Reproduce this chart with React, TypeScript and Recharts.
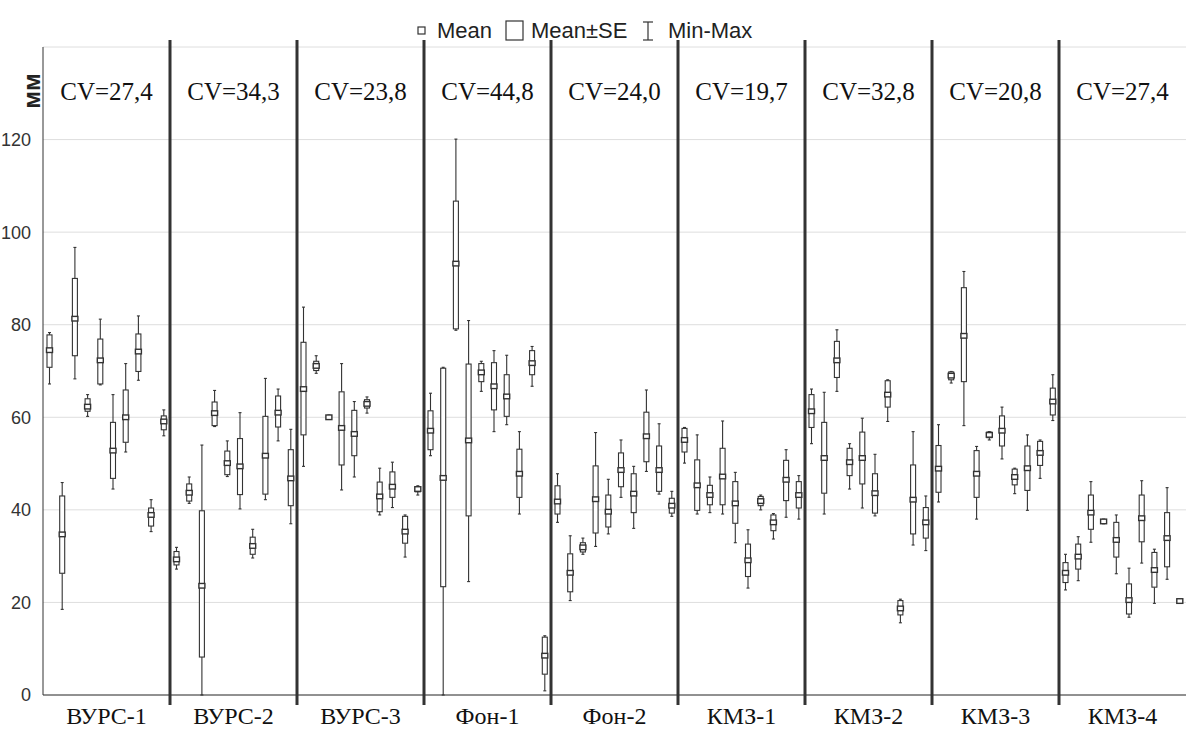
import { Bar, CartesianGrid, ComposedChart, Legend, ReferenceLine, XAxis, YAxis } from 'recharts';

const groups = ['ВУРС-1', 'ВУРС-2', 'ВУРС-3', 'Фон-1', 'Фон-2', 'КМЗ-1', 'КМЗ-2', 'КМЗ-3', 'КМЗ-4'];
const cvLabels = ['CV=27,4', 'CV=34,3', 'CV=23,8', 'CV=44,8', 'CV=24,0', 'CV=19,7', 'CV=32,8', 'CV=20,8', 'CV=27,4'];
const yTicks = [0, 20, 40, 60, 80, 100, 120];

// one row per group, ten samples each
const mins = [
  [67.2, 18.5, 68.3, 60.2, 67.0, 44.5, 52.5, 68.0, 35.3, 56.0],
  [27.2, 41.4, 0, 58.0, 47.2, 40.2, 29.6, 42.2, 54.9, 37.0],
  [49.4, 69.5, 59.6, 44.3, 47.1, 60.9, 38.9, 40.5, 29.8, 43.2],
  [51.7, 0, 78.8, 24.5, 65.6, 56.9, 58.4, 39.1, 66.7, 0.9],
  [37.3, 20.4, 30.4, 32.1, 34.8, 42.7, 36.0, 48.3, 43.4, 38.6],
  [50.1, 39.1, 39.4, 39.1, 32.9, 23.1, 40.0, 33.7, 38.4, 38.0],
  [54.3, 39.1, 65.6, 44.5, 40.4, 38.7, 59.1, 15.6, 32.4, 31.2],
  [41.7, 67.4, 58.2, 38.0, 55.1, 51.0, 43.5, 39.9, 46.8, 59.3],
  [22.7, 24.7, 33.0, 37.0, 26.2, 16.8, 28.5, 19.8, 25.0, 20.0],
];

const seLow = [
  [70.8, 26.3, 73.3, 61.3, 67.2, 46.8, 54.6, 69.9, 36.5, 57.3],
  [28.1, 41.9, 8.2, 58.2, 47.6, 43.3, 30.4, 43.4, 57.9, 40.9],
  [56.2, 70.1, 59.8, 49.7, 51.7, 62.0, 39.6, 42.7, 32.8, 43.9],
  [53.0, 23.4, 79.1, 38.7, 67.7, 61.6, 60.2, 42.7, 69.2, 4.5],
  [39.1, 22.3, 30.9, 35.0, 36.3, 45.0, 39.4, 50.4, 44.0, 39.3],
  [52.5, 39.9, 41.1, 41.1, 37.1, 25.6, 40.9, 35.5, 42.0, 40.4],
  [57.8, 43.6, 68.6, 47.4, 45.6, 39.3, 62.2, 17.3, 34.8, 33.9],
  [43.8, 68.1, 67.7, 42.7, 55.6, 53.8, 45.4, 44.2, 49.6, 60.5],
  [24.3, 27.2, 35.8, 37.2, 29.8, 17.5, 33.1, 23.3, 27.7, 20.1],
];

const means = [
  [74.5, 34.7, 81.3, 62.3, 72.3, 52.8, 60.0, 74.2, 38.9, 59.1],
  [29.3, 43.7, 23.6, 60.9, 50.1, 49.4, 32.2, 51.7, 61.0, 46.8],
  [66.1, 71.1, 60.0, 57.7, 56.4, 62.9, 42.9, 45.0, 35.3, 44.5],
  [57.1, 46.9, 93.2, 55.0, 69.7, 66.7, 64.5, 47.8, 71.7, 8.5],
  [41.8, 26.4, 31.9, 42.3, 39.6, 48.6, 43.5, 55.9, 48.6, 40.9],
  [55.1, 45.3, 43.2, 47.2, 41.4, 29.1, 41.9, 37.3, 46.5, 43.2],
  [61.3, 51.2, 72.3, 50.3, 51.2, 43.6, 64.9, 18.7, 42.2, 37.3],
  [48.9, 69.0, 77.6, 47.8, 56.2, 57.1, 47.1, 49.0, 52.3, 63.4],
  [26.4, 29.9, 39.4, 37.5, 33.5, 20.5, 38.2, 27.0, 33.9, 20.3],
];

const seHigh = [
  [77.8, 43.0, 90.0, 64.0, 76.9, 58.9, 65.9, 78.0, 40.4, 60.3],
  [31.0, 45.6, 39.8, 63.3, 52.7, 55.4, 34.1, 60.2, 64.6, 53.0],
  [76.2, 72.1, 60.3, 65.5, 61.5, 63.8, 46.0, 48.2, 38.6, 44.9],
  [61.4, 70.6, 106.7, 71.5, 71.6, 71.8, 69.2, 53.1, 74.4, 12.5],
  [45.2, 30.5, 32.9, 49.5, 43.2, 52.3, 47.8, 61.1, 53.8, 42.5],
  [57.6, 50.8, 45.3, 53.3, 46.1, 32.6, 42.9, 38.9, 50.7, 46.1],
  [64.9, 58.9, 76.4, 53.3, 56.8, 47.8, 67.9, 20.4, 49.7, 40.5],
  [53.9, 69.8, 88.0, 52.8, 56.8, 60.3, 48.8, 53.8, 54.8, 66.3],
  [28.6, 32.6, 43.2, 37.8, 37.3, 24.0, 43.2, 30.8, 39.4, 20.5],
];

const maxs = [
  [78.3, 45.9, 96.7, 64.9, 81.2, 64.9, 71.6, 81.9, 42.2, 61.6],
  [31.9, 47.1, 54.0, 65.8, 54.9, 61.0, 35.8, 68.4, 66.1, 57.4],
  [83.8, 73.3, 60.5, 71.6, 63.4, 64.4, 49.0, 50.3, 38.9, 45.2],
  [65.2, 70.8, 120.1, 80.9, 72.1, 74.4, 73.4, 56.9, 75.3, 12.8],
  [47.8, 34.4, 33.9, 56.7, 46.6, 55.1, 49.4, 65.9, 58.6, 44.0],
  [57.8, 56.2, 47.1, 59.2, 48.1, 35.7, 43.2, 39.2, 53.0, 47.4],
  [66.1, 65.4, 78.9, 54.3, 59.8, 52.0, 68.1, 20.7, 56.9, 43.0],
  [58.4, 69.9, 91.5, 53.7, 56.9, 62.2, 49.0, 56.2, 55.1, 69.2],
  [30.4, 34.2, 46.1, 38.0, 38.9, 27.4, 46.3, 31.5, 44.8, 20.6],
];

const perGroup = mins[0].length;
const data = groups.flatMap((_, g) =>
  mins[g].map((min, i) => ({
    pos: g * perGroup + i + 0.5,
    range: [min, maxs[g][i]],
    min,
    lo: seLow[g][i],
    mean: means[g][i],
    hi: seHigh[g][i],
    max: maxs[g][i],
  })),
);

const groupCenters = groups.map((_, g) => g * perGroup + perGroup / 2);
const dividers = groups.slice(1).map((_, g) => (g + 1) * perGroup);
const minorTicks = Array.from({ length: Math.ceil((groups.length * perGroup) / 4) }, (_, k) => k * 4 + 0.5);
const xDomain = [0, groups.length * perGroup];

const ink = '#333';

function BoxShape(props: any) {
  const { x, y, width, height, payload } = props;
  const top = Math.min(y, y + height);
  const h = Math.abs(height);
  const span = payload.max - payload.min || 1;
  const py = (v: number) => top + ((payload.max - v) / span) * h;
  const cx = x + width / 2;
  const yHi = py(payload.hi);
  const yLo = py(payload.lo);
  const yMean = py(payload.mean);
  return (
    <g stroke={ink} strokeWidth={1.1} fill="none">
      <line x1={cx} x2={cx} y1={top} y2={yHi} />
      <line x1={cx} x2={cx} y1={yLo} y2={top + h} />
      <line x1={cx - 1.5} x2={cx + 1.5} y1={top} y2={top} />
      <line x1={cx - 1.5} x2={cx + 1.5} y1={top + h} y2={top + h} />
      <rect x={x} y={yHi} width={width} height={Math.max(yLo - yHi, 0.5)} fill="#fff" />
      <rect x={cx - 3} y={yMean - 2.3} width={6} height={4.6} fill="#fff" strokeWidth={1.4} />
    </g>
  );
}

function LegendBox() {
  const font = { fontFamily: '"Liberation Sans", Arial, sans-serif', fontSize: 22, fill: '#222' };
  return (
    <svg width={1187} height={40} style={{ display: 'block' }}>
      <rect x={418} y={20} width={7} height={7} fill="none" stroke={ink} strokeWidth={1.2} />
      <text x={437} y={31} {...font}>Mean</text>
      <rect x={506} y={14} width={17} height={19} fill="none" stroke={ink} strokeWidth={1.2} />
      <text x={531} y={31} {...font}>Mean±SE</text>
      <g stroke={ink} strokeWidth={1.2}>
        <line x1={648} x2={648} y1={15} y2={33} />
        <line x1={643} x2={653} y1={15} y2={15} />
        <line x1={643} x2={653} y1={33} y2={33} />
      </g>
      <text x={668} y={31} {...font}>Min-Max</text>
    </svg>
  );
}

function Divider(props: any) {
  const y1 = Math.min(props.y1, props.y2);
  const y2 = Math.max(props.y1, props.y2);
  return <line x1={props.x1} x2={props.x2} y1={y1 - 7} y2={y2 + 10} stroke={ink} strokeWidth={3} />;
}

export default function App() {
  return (
    <div style={{ position: 'absolute', left: 0, top: 0, width: 1187, height: 729, background: '#fff' }}>
      <ComposedChart width={1187} height={729} data={data} margin={{ top: 7, right: 1, bottom: 0, left: 0 }}>
        <Legend verticalAlign="top" align="left" content={() => <LegendBox />} wrapperStyle={{ margin: 0, padding: 0 }} />
        <CartesianGrid vertical={false} stroke="#dedede" />
        <XAxis
          dataKey="pos"
          type="number"
          domain={xDomain}
          ticks={groupCenters}
          tickFormatter={(v) => groups[Math.floor(v / perGroup)]}
          tickLine={false}
          tickSize={0}
          tickMargin={12}
          height={34}
          stroke={ink}
          tick={{ fill: '#111', fontSize: 24, fontFamily: '"Liberation Serif", "Times New Roman", serif' }}
          interval={0}
        />
        <XAxis
          xAxisId="bottomMinor"
          type="number"
          domain={xDomain}
          ticks={minorTicks}
          mirror
          tick={false}
          tickSize={3}
          stroke={ink}
          height={0}
        />
        <XAxis
          xAxisId="top"
          orientation="top"
          type="number"
          domain={xDomain}
          ticks={minorTicks}
          mirror
          tick={false}
          tickSize={3}
          stroke={ink}
          height={0}
        />
        <YAxis
          type="number"
          domain={[0, 140]}
          ticks={yTicks}
          width={43}
          tickLine={false}
          tickMargin={6}
          stroke={ink}
          tick={{ fill: '#333', fontSize: 18, fontFamily: '"Liberation Sans", Arial, sans-serif' }}
          label={{
            content: ({ viewBox }: any) => (
              <text
                x={viewBox.x + 31}
                y={viewBox.y + 44}
                transform={`rotate(-90 ${viewBox.x + 31} ${viewBox.y + 44})`}
                textAnchor="middle"
                dominantBaseline="central"
                fontFamily='"Liberation Sans", Arial, sans-serif'
                fontSize={24}
                fontWeight="bold"
                fill="#222"
              >
                мм
              </text>
            ),
          }}
        />
        {groupCenters.map((c, g) => (
          <ReferenceLine
            key={`cv-${g}`}
            x={c}
            stroke="none"
            label={{
              value: cvLabels[g],
              position: 'insideTop',
              offset: 35,
              fill: '#111',
              fontSize: 25,
              fontFamily: '"Liberation Serif", "Times New Roman", serif',
            }}
          />
        ))}
        <Bar dataKey="range" barSize={5} shape={<BoxShape />} isAnimationActive={false} />
        {dividers.map((d) => (
          <ReferenceLine key={`div-${d}`} x={d} shape={(p: any) => <Divider {...p} />} />
        ))}
      </ComposedChart>
    </div>
  );
}
